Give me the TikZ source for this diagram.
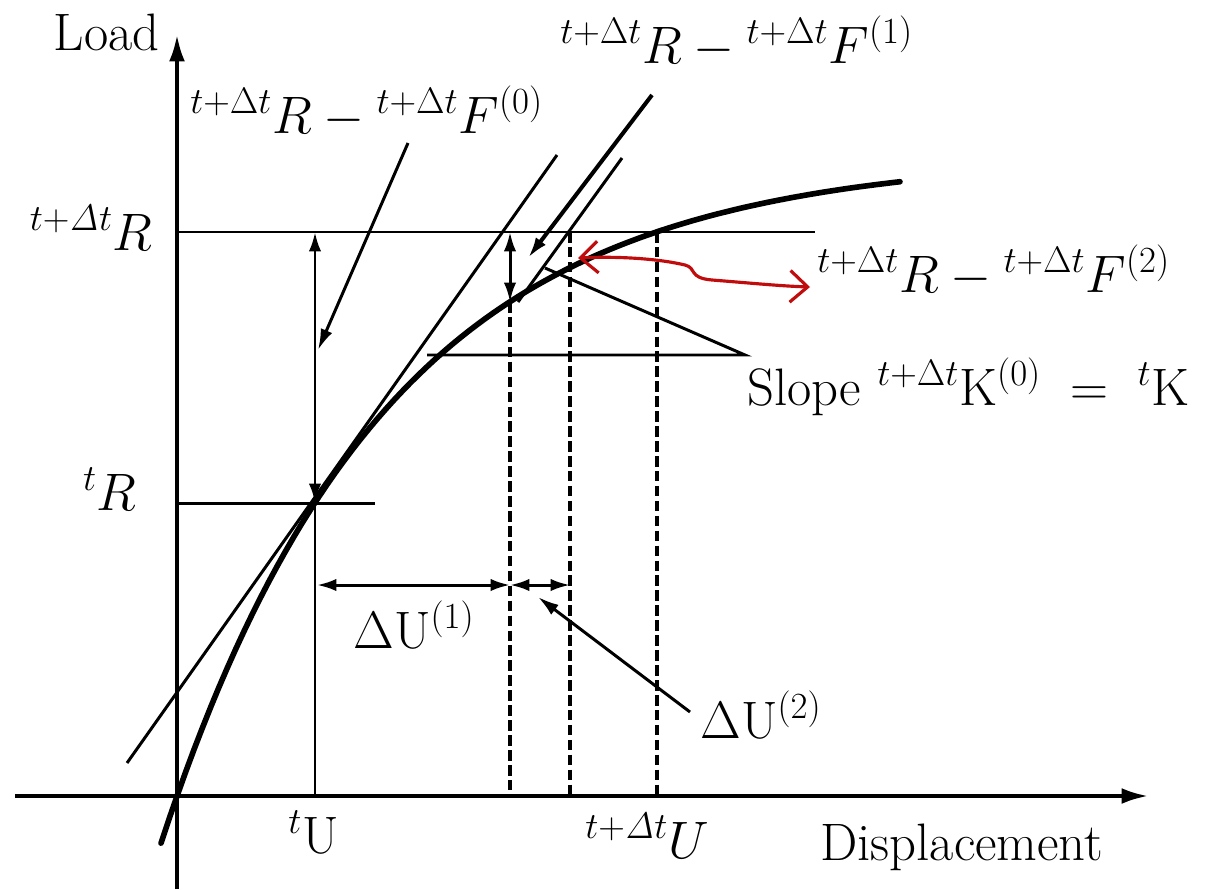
\documentclass[tikz,border=0pt]{standalone}
\usepackage{fix-cm}
\usepackage{amsmath}
\usepackage{tikz}
\usetikzlibrary{arrows.meta,positioning,calc}
\definecolor{darkred}{RGB}{192,12,12}

\begin{document}
\begin{tikzpicture}[x=0.02cm, y=-0.02cm,
        axis/.style={line width=2pt, -{Latex[length=15pt,width=9pt]}},
        loadcurve/.style={line width=3.2pt, line cap=round},
        guide/.style={line width=1.7pt},
        projection/.style={line width=2pt, dash pattern=on 6pt off 2.5pt},
        dimarrow/.style={line width=1.7pt, {Latex[length=11pt,width=7pt]}-{Latex[length=11pt,width=7pt]}},
        pointer/.style={line width=1.7pt, -{Latex[length=12pt,width=7pt]}},
        redarrow/.style={line width=1.8pt, draw=darkred, {Straight Barb[length=10pt,width=18pt]}-{Straight Barb[length=10pt,width=18pt]}},
        lbl/.style={font=\fontsize{30}{36}\selectfont, inner sep=0pt},
      ]
      \useasboundingbox (0,0) rectangle (1209,889);

      % Axes
      \coordinate (ybot) at (177,889);
      \coordinate (ytop) at (177,35);
      \coordinate (xleft) at (15,796);
      \coordinate (xright) at (1148,796);
      \draw [axis] (ybot) -- (ytop);
      \draw [axis] (xleft) -- (xright);

      % Load-displacement curve
      \draw [loadcurve] plot [domain=161:900, samples=90] (\x, {796 - 640*(1 - exp(-(\x-177)/225))});

      % Points on the curve and load levels
      \coordinate (p0) at (315,503);
      \coordinate (p1) at (510,302);
      \coordinate (p3) at (657,232);
      \coordinate (rtopL) at (177,232);
      \coordinate (rtopR) at (815,232);
      \coordinate (rnowL) at (177,503);
      \coordinate (rnowR) at (375,503);
      \coordinate (u0) at (315,796);
      \coordinate (u0top) at (315,232);
      \coordinate (u1top) at (510,232);
      \coordinate (u1) at (510,796);
      \coordinate (u2top) at (570,232);
      \coordinate (u2) at (570,796);
      \coordinate (u3) at (657,796);

      \draw [guide] (rtopL) -- (rtopR);
      \draw [guide] (rnowL) -- (rnowR);
      \draw [guide] (u0) -- (p0);
      \draw [dimarrow] (u0top) -- (p0);
      \draw [dimarrow] (u1top) -- (p1);

      % Tangents (slope tK)
      \coordinate (tan1a) at (127,763);
      \coordinate (tan1b) at (557,155);
      \coordinate (tan2a) at (518,302);
      \coordinate (tan2b) at (622,158);
      \draw [guide] (tan1a) -- (tan1b);
      \draw [guide] (tan2a) -- (tan2b);

      % Projections on displacement axis
      \draw [projection] (p1) -- (u1);
      \draw [projection] (u2top) -- (u2);
      \draw [projection] (p3) -- (u3);

      % Slope indicator
      \coordinate (slA) at (545,268);
      \coordinate (slB) at (745,355);
      \coordinate (slC) at (427,355);
      \draw [guide] (slA) -- (slB) -- (slC);

      % Displacement increments
      \coordinate (du0) at (317,585);
      \coordinate (du1) at (510,585);
      \coordinate (du2) at (570,585);
      \draw [dimarrow] (du0) -- (du1);
      \draw [dimarrow] (du1) -- (du2);

      % Labels
      \node [lbl, anchor=base east] (loadlbl) at (160,50) {Load};
      \node [lbl, anchor=base west] (displbl) at (820,860) {Displacement};
      \node [lbl, anchor=base east] (rtoplbl) at (153,250) {$^{t+\mathit{\Delta} t}R$};
      \node [lbl, anchor=base east] (rnowlbl) at (137,510) {$^{t}R$};
      \node [lbl, anchor=base west] (u0lbl) at (288,853) {$^{t}\mathrm{U}$};
      \node [lbl, anchor=base west] (u3lbl) at (585,858) {$^{t+\mathit{\Delta} t}U$};
      \node [lbl, anchor=base west] (res0lbl) at (190,133) {$^{t+\Delta t}R - {}^{t+\Delta t}F^{(0)}$};
      \node [lbl, anchor=base west] (res1lbl) at (560,63) {$^{t+\Delta t}R - {}^{t+\Delta t}F^{(1)}$};
      \node [lbl, anchor=base west] (res2lbl) at (817,292) {$^{t+\Delta t}R - {}^{t+\Delta t}F^{(2)}$};
      \node [lbl, anchor=base west] (slopelbl) at (747,405) {Slope $^{t+\Delta t}\mathrm{K}^{(0)} \;=\; {}^{t}\mathrm{K}$};
      \node [lbl, anchor=base west] (du1lbl) at (353,648) {$\Delta\mathrm{U}^{(1)}$};
      \node [lbl, anchor=base west] (du2lbl) at (700,738) {$\Delta\mathrm{U}^{(2)}$};

      % Pointers to the residuals
      \coordinate (ptr0a) at (408,143);
      \coordinate (ptr0b) at (318,350);
      \coordinate (ptr1a) at (652,95);
      \coordinate (ptr1b) at (528,258);
      \coordinate (ptr2a) at (690,712);
      \coordinate (ptr2b) at (538,597);
      \draw [pointer] (ptr0a) -- (ptr0b);
      \draw [pointer, line width=2.3pt] (ptr1a) -- (ptr1b);
      \draw [pointer] (ptr2a) -- (ptr2b);

      \coordinate (redL) at (578,258);
      \coordinate (redR) at (810,287);
      \draw [redarrow] (redL) .. controls (620,256) and (660,259) .. (685,265)
        .. controls (697,268) and (688,278) .. (712,280)
        .. controls (750,283) and (780,286) .. (redR);
    \end{tikzpicture}
\end{document}
